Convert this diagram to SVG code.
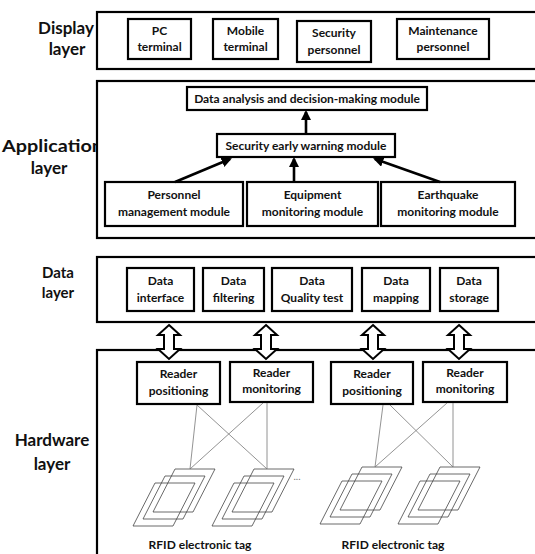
<svg xmlns="http://www.w3.org/2000/svg" width="535" height="554" viewBox="0 0 535 554">
<style>
.lbl{font-family:Lato,"Open Sans","Liberation Sans",sans-serif;font-weight:bold;font-size:16px;fill:#111;text-anchor:middle}
.t{font-family:Lato,"Open Sans","Liberation Sans",sans-serif;font-weight:bold;font-size:12px;fill:#111;text-anchor:middle}
.layer{fill:#fff;stroke:#000;stroke-width:2.2}
.box{fill:#fff;stroke:#000;stroke-width:2.2}
.tag{fill:none;stroke:#444;stroke-width:0.8}
.wire{stroke:#777;stroke-width:0.8;fill:none}
.arr{stroke:#000;stroke-width:2.6;fill:none}
.harr{fill:#fff;stroke:#000;stroke-width:2}
</style>
<defs>
<marker id="ah" viewBox="0 0 10 10" refX="8" refY="5" markerWidth="4" markerHeight="4" orient="auto">
<path d="M0,0 L10,5 L0,10 z" fill="#000"/>
</marker>
<path id="dbl" d="M0,-17 L11,-7 L5,-7 L5,7 L11,7 L0,17 L-11,7 L-5,7 L-5,-7 L-11,-7 z"/>
<g id="tagset">
<path d="M20,0 L60,0 L38,43 L-2,43 z"/>
<path d="M10,7 L50,7 L28,50 L-12,50 z"/>
<path d="M0,14 L40,14 L18,57 L-22,57 z"/>
</g>
</defs>

<!-- layer labels -->
<g id="label-display">
<text class="lbl" x="66" y="34" style="font-size:17px">Display</text>
<text class="lbl" x="67" y="55" style="font-size:17px">layer</text>
</g>
<g id="label-application">
<text class="lbl" x="2" y="152" style="text-anchor:start;font-size:17px" textLength="101" lengthAdjust="spacingAndGlyphs">Application</text>
<text class="lbl" x="49" y="174" style="font-size:17px">layer</text>
</g>
<g id="label-data">
<text class="lbl" x="58" y="278" style="font-size:15px">Data</text>
<text class="lbl" x="58" y="298" style="font-size:15px">layer</text>
</g>
<g id="label-hardware">
<text class="lbl" x="52" y="446" style="font-size:17px">Hardware</text>
<text class="lbl" x="52" y="470" style="font-size:17px">layer</text>
</g>

<!-- layer frames -->
<rect id="display-layer" class="layer" x="97" y="12" width="450" height="57"/>
<rect id="application-layer" class="layer" x="97" y="81" width="450" height="157"/>
<rect id="data-layer" class="layer" x="97" y="257" width="450" height="65"/>
<rect id="hardware-layer" class="layer" x="97" y="350" width="450" height="220"/>

<!-- display nodes -->
<g id="pc-terminal"><rect class="box" x="128" y="19" width="63" height="40"/><text class="t" x="159.5" y="35">PC</text><text class="t" x="159.5" y="51">terminal</text></g>
<g id="mobile-terminal"><rect class="box" x="213" y="19" width="65" height="40"/><text class="t" x="245.5" y="35">Mobile</text><text class="t" x="245.5" y="51">terminal</text></g>
<g id="security-personnel"><rect class="box" x="297" y="21" width="74" height="41"/><text class="t" x="334" y="37">Security</text><text class="t" x="334" y="54">personnel</text></g>
<g id="maintenance-personnel"><rect class="box" x="397" y="19" width="92" height="40"/><text class="t" x="443" y="35">Maintenance</text><text class="t" x="443" y="51">personnel</text></g>

<!-- application nodes -->
<g id="data-analysis"><rect class="box" x="187" y="87" width="240" height="23"/><text class="t" x="307" y="103">Data analysis and decision-making module</text></g>
<g id="security-warning"><rect class="box" x="217" y="134" width="178" height="23"/><text class="t" x="306" y="150">Security early warning module</text></g>
<g id="personnel-mgmt"><rect class="box" x="105" y="182" width="138" height="44"/><text class="t" x="174" y="199">Personnel</text><text class="t" x="174" y="216">management module</text></g>
<g id="equipment-mon"><rect class="box" x="247" y="182" width="131" height="44"/><text class="t" x="312.5" y="199">Equipment</text><text class="t" x="312.5" y="216">monitoring module</text></g>
<g id="earthquake-mon"><rect class="box" x="381" y="182" width="134" height="44"/><text class="t" x="448" y="199">Earthquake</text><text class="t" x="448" y="216">monitoring module</text></g>

<!-- data nodes -->
<g id="data-interface"><rect class="box" x="127" y="268" width="67" height="43"/><text class="t" x="160.5" y="285">Data</text><text class="t" x="160.5" y="302">interface</text></g>
<g id="data-filtering"><rect class="box" x="203" y="268" width="61" height="43"/><text class="t" x="233.5" y="285">Data</text><text class="t" x="233.5" y="302">filtering</text></g>
<g id="data-quality"><rect class="box" x="272" y="268" width="80" height="43"/><text class="t" x="312" y="285">Data</text><text class="t" x="312" y="302">Quality test</text></g>
<g id="data-mapping"><rect class="box" x="362" y="268" width="68" height="43"/><text class="t" x="396" y="285">Data</text><text class="t" x="396" y="302">mapping</text></g>
<g id="data-storage"><rect class="box" x="440" y="268" width="58" height="43"/><text class="t" x="469" y="285">Data</text><text class="t" x="469" y="302">storage</text></g>

<!-- hardware nodes -->
<g id="reader-pos-1"><rect class="box" x="137" y="362" width="83" height="42"/><text class="t" x="178.5" y="378">Reader</text><text class="t" x="178.5" y="395">positioning</text></g>
<g id="reader-mon-1"><rect class="box" x="230" y="362" width="83" height="40"/><text class="t" x="271.5" y="377">Reader</text><text class="t" x="271.5" y="393">monitoring</text></g>
<g id="reader-pos-2"><rect class="box" x="331" y="362" width="82" height="42"/><text class="t" x="372" y="378">Reader</text><text class="t" x="372" y="395">positioning</text></g>
<g id="reader-mon-2"><rect class="box" x="423" y="362" width="84" height="40"/><text class="t" x="465" y="377">Reader</text><text class="t" x="465" y="393">monitoring</text></g>

<!-- tags -->
<g id="tag-1" class="tag"><use href="#tagset" x="155" y="469"/></g>
<g id="tag-2" class="tag"><use href="#tagset" x="234" y="469"/></g>
<g id="tag-3" class="tag"><use href="#tagset" x="342" y="467"/></g>
<g id="tag-4" class="tag"><use href="#tagset" x="420" y="467"/></g>
<text x="297" y="480" style="font-family:Lato,sans-serif;font-size:10px;fill:#777;text-anchor:middle">...</text>
<g id="rfid-label-1"><text class="t" x="200" y="549">RFID electronic tag</text></g>
<g id="rfid-label-2"><text class="t" x="393" y="549">RFID electronic tag</text></g>

<!-- connectors -->
<g id="connectors">
<line class="arr" x1="306" y1="134" x2="306" y2="112" marker-end="url(#ah)"/>
<line class="arr" x1="175" y1="182" x2="230" y2="159" marker-end="url(#ah)"/>
<line class="arr" x1="294" y1="182" x2="294" y2="159" marker-end="url(#ah)"/>
<line class="arr" x1="440" y1="182" x2="375" y2="159" marker-end="url(#ah)"/>
<use href="#dbl" class="harr" x="169" y="342"/>
<use href="#dbl" class="harr" x="266" y="342"/>
<use href="#dbl" class="harr" x="373" y="342"/>
<use href="#dbl" class="harr" x="459" y="342"/>
<line class="wire" x1="197" y1="405" x2="190" y2="469"/>
<line class="wire" x1="197" y1="405" x2="267" y2="469"/>
<line class="wire" x1="263" y1="403" x2="190" y2="469"/>
<line class="wire" x1="267" y1="403" x2="267" y2="469"/>
<line class="wire" x1="383" y1="405" x2="375" y2="467"/>
<line class="wire" x1="390" y1="405" x2="453" y2="467"/>
<line class="wire" x1="447" y1="403" x2="375" y2="467"/>
<line class="wire" x1="453" y1="403" x2="453" y2="467"/>
</g>
</svg>
